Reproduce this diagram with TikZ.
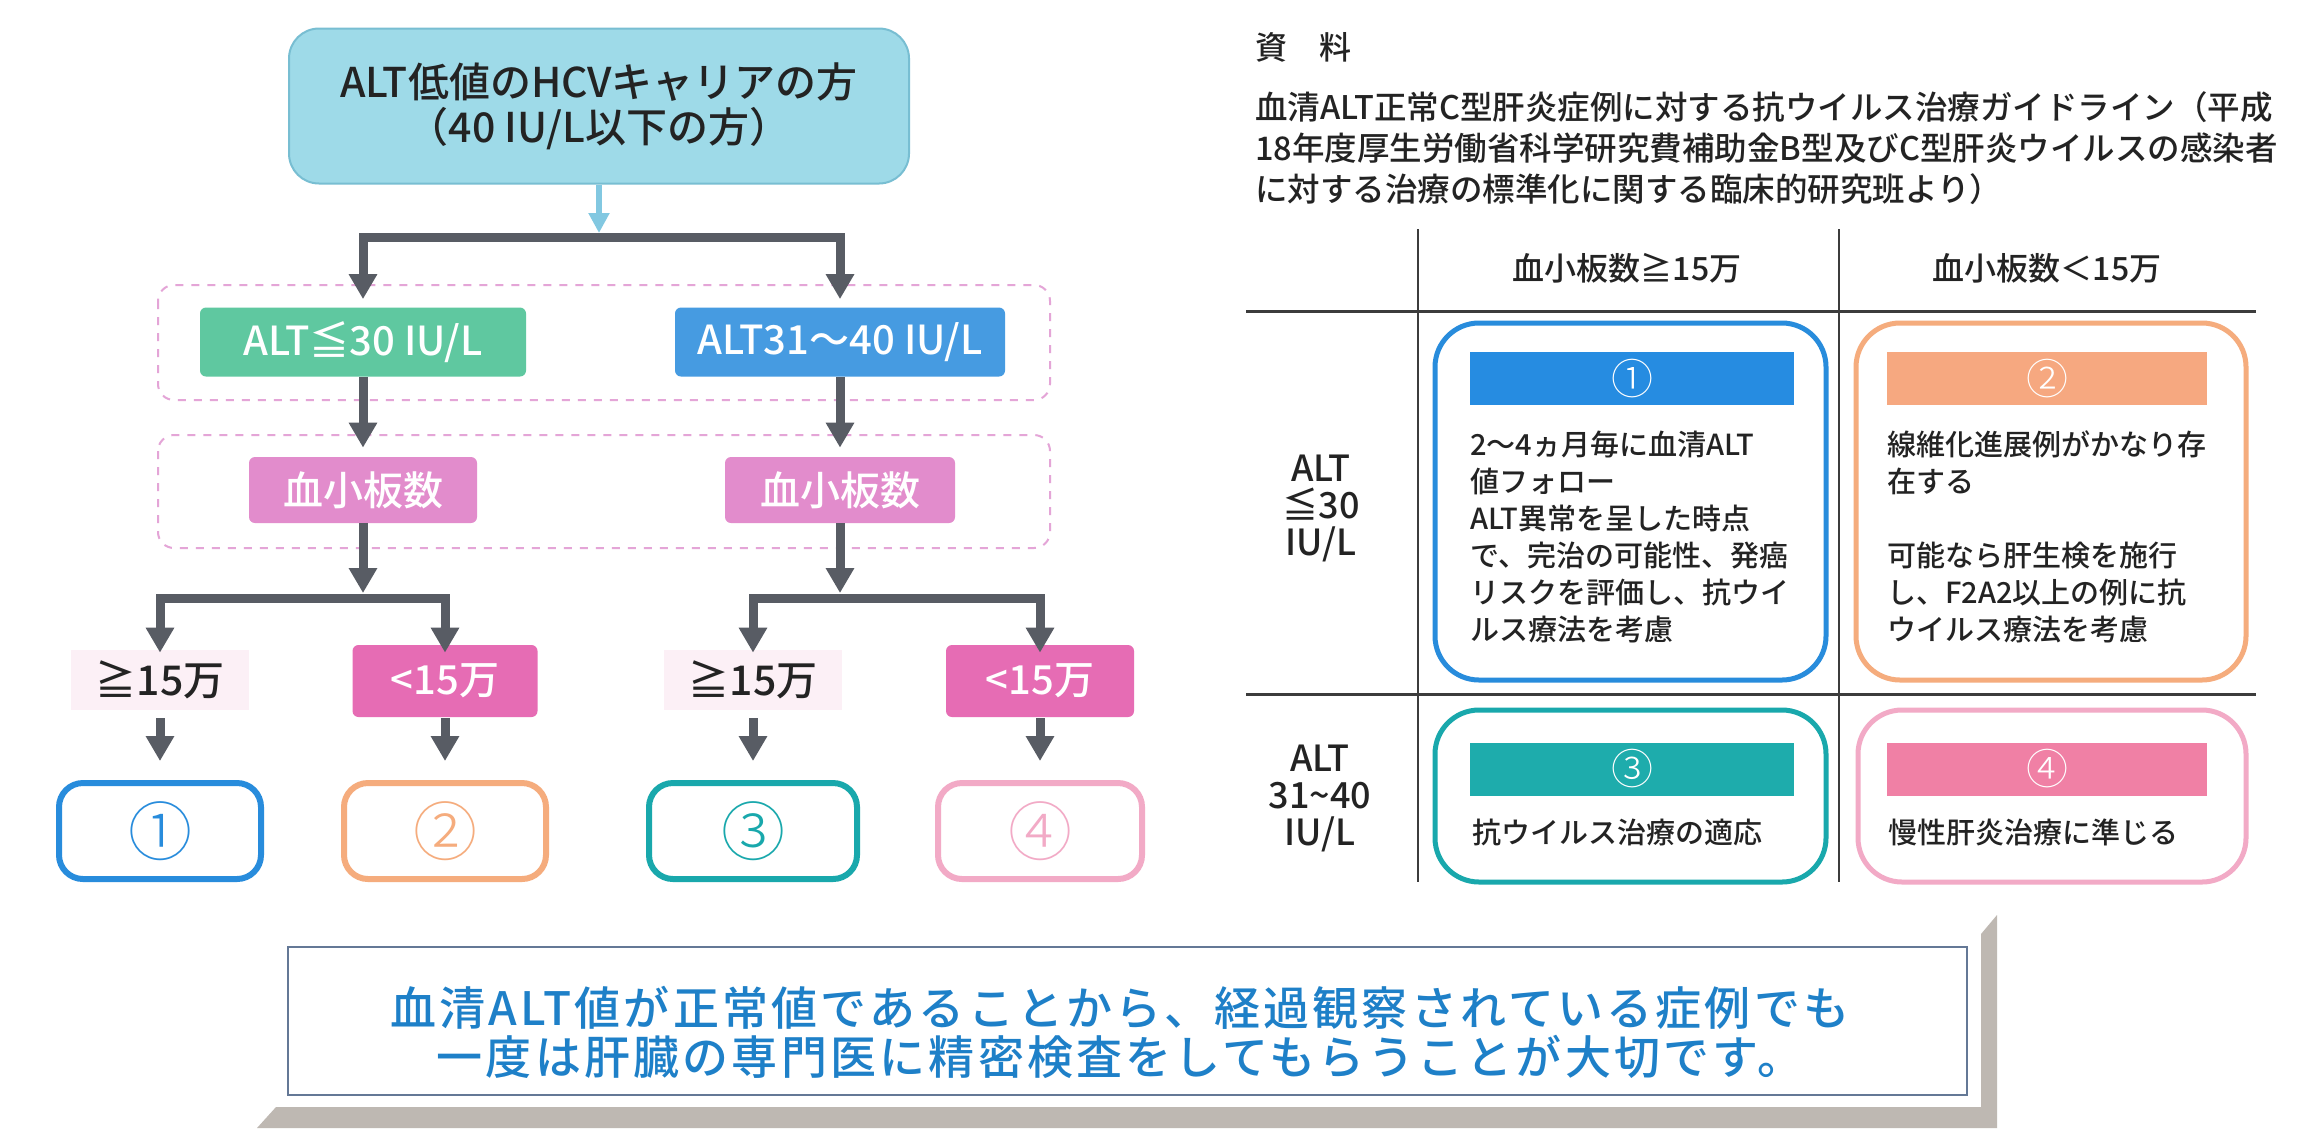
\documentclass[tikz,border=0pt]{standalone}
\usepackage{fontspec}
\IfFontExistsTF{Noto Sans CJK JP Medium}
  {\newfontfamily\jp{Noto Sans CJK JP Medium}
   \newfontfamily\jpnote[LetterSpace=7]{Noto Sans CJK JP Medium}}
  {\newfontfamily\jp{Noto Sans CJK JP}
   \newfontfamily\jpnote[LetterSpace=7]{Noto Sans CJK JP}}
\IfFontExistsTF{Noto Sans CJK JP Light}
  {\newfontfamily\jpthin{Noto Sans CJK JP Light}}
  {\newfontfamily\jpthin{Noto Sans CJK JP}}
\usetikzlibrary{arrows.meta}
\newcommand\fsz[2]{\fontsize{#1}{#2}\selectfont}
\definecolor{topcyan}{RGB}{158,218,232}
\definecolor{topedge}{RGB}{120,190,210}
\definecolor{lbarc}{RGB}{130,200,225}
\definecolor{altgreen}{RGB}{95,200,160}
\definecolor{altblue}{RGB}{70,155,225}
\definecolor{pltpink}{RGB}{226,140,204}
\definecolor{ltpink}{RGB}{230,108,180}
\definecolor{gepale}{RGB}{252,240,246}
\definecolor{dashpink}{RGB}{228,165,215}
\definecolor{garr}{RGB}{88,92,100}
\definecolor{cone}{RGB}{40,140,220}
\definecolor{ctwo}{RGB}{245,172,125}
\definecolor{cthree}{RGB}{25,168,172}
\definecolor{cfour}{RGB}{242,170,198}
\definecolor{barone}{RGB}{38,140,225}
\definecolor{bartwo}{RGB}{246,168,128}
\definecolor{barthree}{RGB}{30,172,172}
\definecolor{barfour}{RGB}{240,128,165}
\definecolor{notec}{RGB}{30,128,200}
\definecolor{noteframec}{RGB}{100,120,150}
\definecolor{shadowc}{RGB}{190,184,178}
\definecolor{tlinec}{RGB}{60,60,60}
\definecolor{textdark}{RGB}{35,35,35}
\tikzset{
  topbox/.style={rounded corners=15pt, fill=topcyan, draw=topedge, line width=1pt,
    minimum width=310pt, minimum height=77.5pt, align=center, text=textdark,
    font=\jp\fsz{20.5pt}{22.5pt}},
  flowbox/.style={rounded corners=3pt, fill=#1, text=white, minimum height=34.5pt,
    inner sep=0pt, font=\jp\fsz{20pt}{24pt}},
  gelabel/.style={fill=gepale, minimum width=89pt, minimum height=30pt, inner sep=0pt,
    text=textdark, font=\jp\fsz{20.5pt}{24pt}},
  resbox/.style={rounded corners=12pt, draw=#1, line width=3pt, fill=white,
    minimum width=102pt, minimum height=48pt, text=#1, font=\jpthin\fsz{32pt}{33pt}},
  garrow/.style={draw=garr, line width=4.5pt, -{Triangle[width=13.5pt,length=12.5pt]}},
  lbarrow/.style={draw=lbarc, line width=3pt, -{Triangle[width=10pt,length=10pt]}},
  dashbox/.style={draw=dashpink, line width=1pt, dash pattern=on 4pt off 4pt, rounded corners=8pt},
  tbox/.style={rounded corners=22pt, draw=#1, line width=2.5pt},
  tbar/.style={fill=#1, minimum height=26.5pt, inner sep=0pt, text=white,
    font=\jpthin\fsz{21pt}{22pt}},
  ttext/.style={anchor=west, align=left, text=textdark, inner sep=0pt,
    font=\jp\fsz{14.5pt}{18.5pt}},
  thead/.style={text=textdark, inner sep=0pt, font=\jp\fsz{16pt}{18pt}},
  rowlabel/.style={text=textdark, inner sep=0pt, align=center, font=\jp\fsz{18pt}{18.5pt}},
  tline/.style={draw=tlinec, line width=1pt},
}
\begin{document}
\begin{tikzpicture}[x=0.5pt,y=-0.5pt,font=\jp]
\fill[white] (0,0) rectangle (2316,1137);
\useasboundingbox (0,0) rectangle (2316,1137);

% ---------- flow chart ----------
\draw[dashbox] (158,285) rectangle (1050,400);
\draw[dashbox] (158,435) rectangle (1050,548);

\node[topbox] (top) at (599,106) {ALT低値のHCVキャリアの方\\（40 IU/L以下の方）};
\coordinate (s1) at (599,237);

\node[flowbox=altgreen, minimum width=163pt] (alt30) at (363,342) {ALT≦30 IU/L};
\node[flowbox=altblue, minimum width=165pt] (alt40) at (840,342) {ALT31～40 IU/L};

\node[flowbox=pltpink, minimum width=114pt, minimum height=33pt] (plt1) at (363,490) {血小板数};
\node[flowbox=pltpink, minimum width=115pt, minimum height=33pt] (plt2) at (840,490) {血小板数};

\coordinate (s2) at (363,598);
\coordinate (s3) at (840,598);

\node[gelabel] (ge1) at (160,680) {≧15万};
\node[flowbox=ltpink, minimum width=92.5pt, minimum height=36pt] (lt1) at (445,681) {<15万};
\node[gelabel] (ge2) at (753,680) {≧15万};
\node[flowbox=ltpink, minimum width=94pt, minimum height=36pt] (lt2) at (1040,681) {<15万};

\node[resbox=cone, minimum width=101pt] (r1) at (160,831) {①};
\node[resbox=ctwo, minimum width=101pt] (r2) at (445,831) {②};
\node[resbox=cthree, minimum width=104pt] (r3) at (753,831) {③};
\node[resbox=cfour, minimum width=102pt] (r4) at (1040,831) {④};

\draw[lbarrow, shorten >=2pt] (top.south) -- (s1);
\draw[garrow, shorten >=4pt] (s1) -| (alt30);
\draw[garrow, shorten >=4pt] (s1) -| (alt40);
\draw[garrow, shorten >=4.5pt] (alt30) -- (plt1);
\draw[garrow, shorten >=4.5pt] (alt40) -- (plt2);
\draw[garrow, shorten >=2.5pt] (plt1) -- (s2);
\draw[garrow, shorten >=2.5pt] (plt2) -- (s3);
\draw[garrow, shorten >=-1.5pt] (s2) -| (ge1);
\draw[garrow, shorten >=-4pt] (s2) -| (lt1);
\draw[garrow, shorten >=-1.5pt] (s3) -| (ge2);
\draw[garrow, shorten >=-4pt] (s3) -| (lt2);
\draw[garrow, shorten <=4pt, shorten >=9.5pt] (ge1) -- (r1);
\draw[garrow, shorten <=0.5pt, shorten >=9.5pt] (lt1) -- (r2);
\draw[garrow, shorten <=4pt, shorten >=9.5pt] (ge2) -- (r3);
\draw[garrow, shorten <=0.5pt, shorten >=9.5pt] (lt2) -- (r4);

% ---------- reference text ----------
\node[anchor=west, inner sep=0pt, text=textdark, font=\jp\fsz{16pt}{18pt}] (src) at (1255,47) {資　料};
\node[anchor=west, inner sep=0pt, align=left, text=textdark, font=\jp\fsz{16.25pt}{20.5pt}] (para) at (1255,148)
  {血清ALT正常C型肝炎症例に対する抗ウイルス治療ガイドライン（平成\\
   18年度厚生労働省科学研究費補助金B型及びC型肝炎ウイルスの感染者\\
   に対する治療の標準化に関する臨床的研究班より）};

% ---------- table ----------
\draw[tline] (1418,229) -- (1418,882);
\draw[tline] (1839,229) -- (1839,882);
\draw[tline, line width=1.5pt] (1246,311) -- (2256,311);
\draw[tline, line width=1.5pt] (1246,694) -- (2256,694);

\node[thead] (h1) at (1627,268) {血小板数≧15万};
\node[thead] (h2) at (2047,268) {血小板数＜15万};
\node[rowlabel] (row1) at (1321,508) {ALT\\≦30\\IU/L};
\node[rowlabel] (row2) at (1320,798) {ALT\\31\string~40\\IU/L};

\node[tbox=cone, minimum width=195.5pt, minimum height=178.5pt] (t1) at (1630.5,501.5) {};
\node[tbox=ctwo, minimum width=195pt, minimum height=178.5pt] (t2) at (2051,501.5) {};
\node[tbox=cthree, minimum width=195.5pt, minimum height=86pt] (t3) at (1630.5,796) {};
\node[tbox=cfour, minimum width=194pt, minimum height=86pt] (t4) at (2052,796) {};

\node[tbar=barone, minimum width=162pt] (b1) at (1632,378.5) {①};
\node[tbar=bartwo, minimum width=160pt] (b2) at (2047,378.5) {②};
\node[tbar=barthree, minimum width=162pt] (b3) at (1632,769) {③};
\node[tbar=barfour, minimum width=160pt] (b4) at (2047,769) {④};

\node[ttext] (x1) at (1470,537) {2～4ヵ月毎に血清ALT\\値フォロー\\ALT異常を呈した時点\\で、完治の可能性、発癌\\リスクを評価し、抗ウイ\\ルス療法を考慮};
\node[ttext] (x2) at (1887,537) {線維化進展例がかなり存\\在する\\\mbox{}\\可能なら肝生検を施行\\し、F2A2以上の例に抗\\ウイルス療法を考慮};
\node[ttext] (x3) at (1472,832) {抗ウイルス治療の適応};
\node[ttext] (x4) at (1888,832) {慢性肝炎治療に準じる};

% ---------- note ----------
\fill[shadowc] (257,1128) -- (276,1107) -- (1981,1107) -- (1981,934) -- (1997,915) -- (1997,1128) -- cycle;
\node[draw=noteframec, line width=0.8pt, fill=white, minimum width=839.5pt, minimum height=74pt] (note) at (1127.5,1021) {};
\node[align=center, text=notec, inner sep=0pt, font=\jpnote\fsz{23pt}{24.5pt}] (notetext) at (1120,1032)
  {血清ALT値が正常値であることから、経過観察されている症例でも\\一度は肝臓の専門医に精密検査をしてもらうことが大切です。};
\end{tikzpicture}
\end{document}
